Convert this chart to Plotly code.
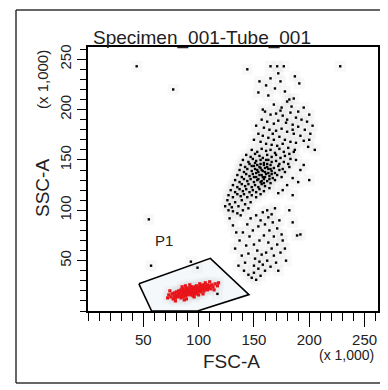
import plotly.graph_objects as go

# ---- data (FSC-A, SSC-A in thousands) ----
black_points = [
    # top sparse
    (144,240),(165,243),(171,243),(177,243),(172,236),(187,233),(155,228),(191,226),(154,217),(161,224),
    (165,231),(174,228),(180,208),(182,210),(186,211),(184,203),(195,202),(158,200),(168,205),(175,202),
    (190,198),(200,195),(163,214),(178,218),(169,221),
    # upper band
    (160,198),(165,195),(170,196),(176,194),(183,197),(188,192),(193,190),(198,188),(203,184),(157,190),
    (162,188),(168,186),(172,189),(179,187),(185,185),(190,183),(196,180),(201,176),(159,182),(164,180),
    (170,179),(175,181),(180,178),(186,176),(192,174),(154,176),(158,174),(163,172),(168,170),(173,173),
    (178,170),(183,168),(188,167),(195,169),(150,170),(156,168),(161,166),(166,165),(171,164),(176,166),
    (181,162),(187,160),(199,163),(205,160),(152,184),(174,199),(180,190),(167,176),(200,170),(185,180),
    # dense core
    (148,160),(153,158),(157,161),(161,159),(165,160),(169,157),(173,161),(177,158),(182,156),(186,158),
    (143,155),(147,153),(151,156),(155,154),(158,152),(162,155),(166,153),(170,155),(174,152),(178,154),(183,151),
    (140,150),(145,148),(149,151),(152,149),(156,150),(159,147),(163,150),(166,148),(170,149),(173,146),(177,148),(181,146),
    (138,145),(142,143),(146,146),(150,144),(153,145),(156,142),(159,145),(162,143),(165,145),(168,142),(172,144),(176,141),(182,143),
    (137,140),(141,138),(144,141),(148,139),(151,141),(154,138),(157,140),(160,138),(163,141),(166,139),(169,137),(173,140),(178,138),
    (135,135),(139,133),(143,136),(146,134),(149,136),(152,133),(155,135),(158,133),(161,136),(164,134),(167,132),(171,135),(175,133),
    (133,130),(137,128),(141,131),(144,129),(147,131),(150,128),(153,130),(156,128),(159,131),(162,129),(165,127),(169,130),
    (131,125),(135,123),(139,126),(142,124),(145,126),(148,123),(151,125),(154,123),(157,126),(160,124),(164,122),
    (129,120),(133,118),(137,121),(140,119),(143,121),(146,118),(149,120),(152,118),(155,121),(159,119),
    (127,115),(131,113),(135,116),(138,114),(141,116),(144,113),(148,115),(152,113),(156,116),
    (152,137),(154,131),(156,146),(158,139),(160,133),(161,150),(163,137),(157,129),(155,143),(159,127),
    (153,140),(162,146),(164,131),(150,133),(148,144),(166,136),(157,135),(160,142),(151,147),(165,141),
    # fringes
    (126,110),(128,106),(130,103),(133,108),(136,104),(139,110),(142,106),(145,102),(131,99),(127,100),
    (135,97),(140,100),(147,108),(124,104),(138,95),
    (188,150),(192,140),(190,128),(185,132),(195,145),(180,125),(176,120),(172,117),(185,115),(200,130),
    # lower tail
    (128,92),(131,85),(134,78),(137,70),(133,62),(139,55),(142,48),(136,45),(141,40),(145,36),
    (148,33),(150,38),(152,31),(154,42),(156,35),(158,46),(160,40),(162,50),(157,56),(153,60),
    (150,66),(155,70),(159,75),(163,68),(166,62),(168,55),(170,48),(165,44),(172,40),(174,58),
    (171,66),(168,74),(164,80),(160,86),(156,90),(152,95),(158,98),(163,93),(167,88),(171,82),
    (175,76),(176,70),(173,90),(149,80),(146,74),(144,86),(147,92),(143,65),(140,78),(151,52),
    (161,58),(166,96),(178,62),(179,50),(154,84),(162,100),(169,102),(145,57),(150,45),(155,49),
    (189,75),(192,76),(182,100),(185,88),
    # strays
    (44,243),(77,220),(55,91),(57,45),(228,243),(93,49),(99,43),(117,17),
]

red_points = [
    (72,13),(73,16),(75,14),(76,17),(77,12),(78,15),(78,18),(79,13),(80,16),(80,19),
    (81,14),(82,17),(82,20),(83,15),(83,18),(84,13),(84,21),(85,16),(85,19),(86,14),
    (86,17),(86,22),(87,18),(87,20),(88,15),(88,17),(88,21),(89,19),(89,23),(90,16),
    (90,18),(90,20),(90,22),(91,17),(91,19),(91,21),(92,18),(92,20),(92,23),(93,16),
    (93,19),(93,21),(94,18),(94,20),(94,22),(94,24),(95,19),(95,21),(95,23),(96,17),
    (96,20),(96,22),(97,19),(97,21),(97,24),(98,20),(98,22),(98,25),(99,19),(99,21),
    (99,23),(100,20),(100,22),(100,24),(101,21),(101,23),(102,19),(102,22),(102,25),(103,21),
    (103,24),(104,22),(104,26),(105,20),(105,23),(106,22),(106,25),(107,24),(108,21),(108,26),
    (109,23),(110,25),(111,22),(112,26),(113,24),(115,27),(117,25),(74,20),(79,10),(88,25),
    (96,14),(104,17),(110,29),(118,28),(114,21),
    (85,24),(89,12),(92,26),(95,15),(98,17),(101,27),(93,24),(87,11),(100,16),(106,28),
]

gate_x = [46, 110.6, 145.5, 99, 57.5, 46]
gate_y = [27, 52.3, 16.3, 0, 0, 27]

major_ticks = [50, 100, 150, 200, 250]
tick_labels = ["50", "100", "150", "200", "250"]

bx = [p[0] for p in black_points]
by = [p[1] for p in black_points]
rx = [p[0] for p in red_points]
ry = [p[1] for p in red_points]

FONT = "Liberation Sans, Arial, sans-serif"
TXT = "#222"
W, H = 380, 382

fig = go.Figure()
fig.add_trace(go.Scatter(x=bx + rx, y=by + ry, mode="markers",
                         marker=dict(symbol="square", size=11, color="rgba(215,215,215,0.18)", line=dict(width=0)),
                         hoverinfo="skip", showlegend=False))
fig.add_trace(go.Scatter(x=gate_x, y=gate_y, mode="lines", fill="toself",
                         fillcolor="rgba(225,235,240,0.35)",
                         line=dict(color="black", width=1.6), showlegend=False))
fig.add_trace(go.Scatter(x=bx, y=by, mode="markers",
                         marker=dict(symbol="square", size=2.4, color="black", line=dict(width=0)),
                         showlegend=False))
fig.add_trace(go.Scatter(x=rx, y=ry, mode="markers",
                         marker=dict(symbol="square", size=3.2, color="#e8141a", line=dict(width=0)),
                         showlegend=False))

axis_common = dict(range=[0, 262.144], showgrid=False, zeroline=False,
                   showline=True, linecolor="black", linewidth=1.5, mirror=True,
                   tickmode="array", tickvals=major_ticks, ticktext=tick_labels,
                   ticks="outside", tickwidth=1.2, tickcolor="black",
                   tickfont=dict(family=FONT, size=15, color=TXT),
                   automargin=False)

fig.update_layout(
    xaxis=dict(**axis_common, ticklen=14, domain=[80 / W, 370 / W],
               minor=dict(tick0=0, dtick=10, ticks="outside", ticklen=8, tickwidth=1.2, tickcolor="black")),
    yaxis=dict(**axis_common, ticklen=9, tickangle=-90, domain=[1 - 303 / H, 1 - 39 / H],
               minor=dict(tick0=0, dtick=10, ticks="outside", ticklen=6, tickwidth=1.2, tickcolor="black")),
)

annotations = [
    dict(text="FSC-A", x=223 / W, y=1 - 353 / H, xref="paper", yref="paper",
         showarrow=False, font=dict(family=FONT, size=19, color=TXT), xanchor="center", yanchor="middle"),
    dict(text="(x 1,000)", x=338 / W, y=1 - 347 / H, xref="paper", yref="paper",
         showarrow=False, font=dict(family=FONT, size=14, color=TXT), xanchor="center", yanchor="middle"),
    dict(text="SSC-A", x=35 / W, y=1 - 180 / H, xref="paper", yref="paper", textangle=-90,
         showarrow=False, font=dict(family=FONT, size=19, color=TXT), xanchor="center", yanchor="middle"),
    dict(text="(x 1,000)", x=35 / W, y=1 - 72 / H, xref="paper", yref="paper", textangle=-90,
         showarrow=False, font=dict(family=FONT, size=15, color=TXT), xanchor="center", yanchor="middle"),
    dict(text="P1", x=68.6, y=69.8, xref="x", yref="y",
         showarrow=False, font=dict(family=FONT, size=15, color=TXT), xanchor="center", yanchor="middle"),
]

# outer panel frame as four paper-referenced line shapes
fl, fr = 8 / W, 376 / W
fb, ft = 1 - 375 / H, 1 - 2 / H
frame_line = dict(color="#333", width=1.5)
frame_shapes = [
    dict(type="line", xref="paper", yref="paper", x0=fl, x1=fr, y0=ft, y1=ft, layer="above", line=frame_line),
    dict(type="line", xref="paper", yref="paper", x0=fl, x1=fr, y0=fb, y1=fb, layer="above", line=frame_line),
    dict(type="line", xref="paper", yref="paper", x0=fl, x1=fl, y0=fb, y1=ft, layer="above", line=frame_line),
    dict(type="line", xref="paper", yref="paper", x0=fr, x1=fr, y0=fb, y1=ft, layer="above", line=frame_line),
]

fig.update_layout(
    width=W, height=H,
    autosize=False,
    margin=dict(l=0, r=0, t=0, b=0, pad=0, autoexpand=False),
    paper_bgcolor="white", plot_bgcolor="white",
    title=dict(text="Specimen_001-Tube_001", x=194 / W, xref="container", xanchor="center",
               y=1 - 29 / H, yref="container", yanchor="middle",
               font=dict(family=FONT, size=19, color=TXT)),
    annotations=annotations,
    shapes=frame_shapes,
    showlegend=False,
)

fig.write_html("out.html")
